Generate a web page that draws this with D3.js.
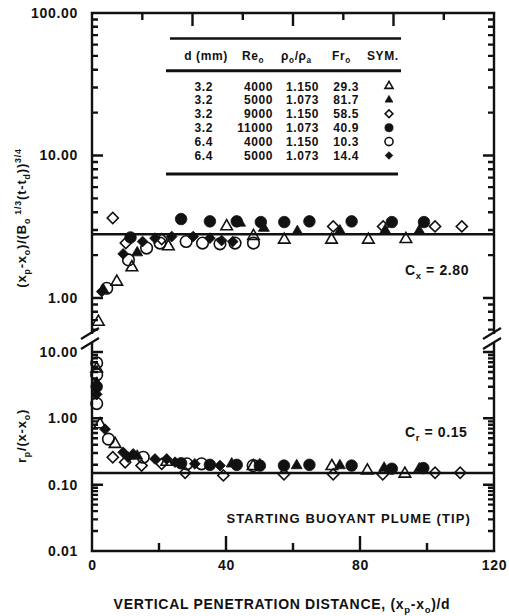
<!DOCTYPE html>
<html>
<head>
<meta charset="utf-8">
<script src="https://cdn.jsdelivr.net/npm/d3@7"></script>
<style>
  body { margin: 0; background: #fff; }
  svg text { font-family: "Liberation Sans", Arial, Helvetica, sans-serif; font-weight: bold; fill: #111; }
  .tick-label { font-size: 14px; letter-spacing: 0.7px; }
  .tab { font-size: 12px; letter-spacing: 0.6px; }
  .note { font-size: 14px; letter-spacing: 0.6px; }
  .title { font-size: 14px; letter-spacing: 0.7px; }
  .ytitle { font-size: 13px; letter-spacing: 0.8px; }
</style>
</head>
<body>
<svg id="chart" width="509" height="616"></svg>
<script>
// ---- experiment table ----
const diameters     = ["3.2", "3.2", "3.2", "3.2", "6.4", "6.4"];
const reynolds      = ["4000", "5000", "9000", "11000", "4000", "5000"];
const densityRatios = ["1.150", "1.073", "1.150", "1.073", "1.150", "1.073"];
const froude        = ["29.3", "81.7", "58.5", "40.9", "10.3", "14.4"];
const markers       = ["triOpen", "triFilled", "diaOpen", "circFilled", "circOpen", "diaFilled"];

// ---- upper panel: (xp-xo)/(Bo^1/3 (t-td))^3/4 vs (xp-xo)/d ----
const penTriOpen    = [[1.9,0.68],[7.4,1.30],[11.9,1.64],[22.8,2.30],[40.2,3.18],[48.2,2.72],[57.4,2.56],[71.5,2.56],[82.5,2.56],[93.7,2.59]];
const penTriFilled  = [[3.4,1.14],[13.5,2.08],[44.2,3.36],[51.3,3.09],[61.3,2.93],[74.0,2.96],[87.5,2.98],[97.7,2.96]];
const penDiaOpen    = [[6.2,3.64],[10.1,2.43],[20.8,2.59],[72.0,3.18],[86.9,3.18],[102.4,3.18],[110.4,3.18]];
const penCircFilled = [[11.5,2.66],[26.6,3.58],[35.2,3.45],[43.2,3.45],[50.4,3.41],[57.4,3.41],[64.9,3.45],[77.5,3.45],[89.5,3.41],[99.1,3.41]];
const penCircOpen   = [[4.4,1.17],[10.9,1.85],[16.3,2.24],[20.3,2.43],[28.1,2.49],[33.0,2.43],[38.2,2.40],[42.7,2.43],[48.2,2.43]];
const penDiaFilled  = [[2.9,1.11],[9.3,2.04],[15.1,2.49],[18.8,2.63],[23.8,2.70],[30.2,2.70],[35.2,2.63],[38.7,2.53],[42.0,2.49]];

// ---- lower panel: rp/(x-xo) vs (xp-xo)/d ----
const radTriOpen    = [[1.4,5.6],[2.4,0.81],[6.9,0.41],[22.3,0.22],[48.1,0.19],[71.6,0.19],[82.2,0.163],[93.4,0.146]];
const radTriFilled  = [[1.4,3.4],[13.5,0.27],[41.7,0.206],[50.1,0.20],[61.1,0.194],[74.0,0.194],[87.2,0.178],[97.7,0.174]];
const radDiaOpen    = [[6.2,0.259],[9.9,0.218],[14.8,0.194],[20.8,0.206],[27.8,0.151],[39.2,0.138],[57.3,0.143],[72.0,0.143],[86.8,0.143],[102.4,0.151],[109.9,0.151]];
const radCircFilled = [[1.4,3.0],[26.6,0.21],[35.2,0.199],[43.2,0.199],[50.1,0.194],[57.3,0.194],[64.9,0.199],[77.5,0.194],[89.5,0.174],[98.9,0.178]];
const radCircOpen   = [[1.4,6.85],[1.4,4.54],[1.4,1.67],[4.9,0.486],[15.3,0.259],[28.3,0.206],[32.7,0.206],[48.1,0.194]];
const radDiaFilled  = [[1.4,2.3],[3.9,0.685],[9.3,0.307],[10.8,0.259],[12.3,0.29],[18.8,0.244],[22.3,0.244],[24.8,0.218],[30.7,0.206],[38.2,0.194]];

const penSeries = [penTriOpen, penTriFilled, penDiaOpen, penCircFilled, penCircOpen, penDiaFilled];
const radSeries = [radTriOpen, radTriFilled, radDiaOpen, radCircFilled, radCircOpen, radDiaFilled];

// fitted constants
const Cx = 2.80, Cr = 0.15;

// axis ticks
const xLabelTicks = [0, 40, 80, 120];
const xMinorTicks = [20, 60, 100];
const xMajorTicks = [40, 80];
const topMinorTicks = [15, 45, 75, 105];
const topMajorTicks = [30, 60, 90];
const penLabelTicks = [1, 10, 100];
const radLabelTicks = [0.01, 0.1, 1, 10];
const penMinorTicks = [0.6, 0.7, 0.8, 0.9, 2, 3, 4, 5, 6, 7, 8, 9, 20, 30, 40, 50, 60, 70, 80, 90];
const radMinorTicks = [0.02, 0.03, 0.04, 0.05, 0.06, 0.07, 0.08, 0.09, 0.2, 0.3, 0.4, 0.5, 0.6, 0.7, 0.8, 0.9, 2, 3, 4, 5, 6, 7, 8, 9];

// ---- drawing ----
const svg = d3.select("#chart");
const X0 = 92, X1 = 494, YT = 13, YB = 551;
const topEnd = 334, botStart = 342;
const INK = "#111";

const x = d3.scaleLinear().domain([0, 120]).range([X0, X1]);
const yPen = d3.scaleLog().domain([1, 100]).range([298, YT]);
const yRad = d3.scaleLog().domain([0.01, 10]).range([YB, 352]);

// axis labels
function yLabels(scale, vals) {
  const g = svg.append("g").attr("transform", `translate(${X0},0)`)
    .call(d3.axisLeft(scale).tickValues(vals).tickSize(0).tickPadding(14).tickFormat(d3.format(".2f")));
  g.select(".domain").remove();
  g.selectAll("text").attr("class", "tick-label");
}
yLabels(yPen, penLabelTicks);
yLabels(yRad, radLabelTicks);
{
  const g = svg.append("g").attr("transform", `translate(0,${YB})`)
    .call(d3.axisBottom(x).tickValues(xLabelTicks).tickSize(0).tickPadding(9).tickFormat(d3.format("d")));
  g.select(".domain").remove();
  g.selectAll("text").attr("class", "tick-label");
}

// fitted constant lines
svg.append("line").attr("x1", X0).attr("x2", X1).attr("y1", yPen(Cx)).attr("y2", yPen(Cx))
  .attr("stroke", INK).attr("stroke-width", 2.4);
svg.append("line").attr("x1", X0).attr("x2", X1).attr("y1", yRad(Cr)).attr("y2", yRad(Cr))
  .attr("stroke", INK).attr("stroke-width", 2.4);

// markers
function markerPath(type, scale) {
  const s = scale || 1;
  if (type.startsWith("tri")) return d3.symbol().type(d3.symbolTriangle).size((type === "triOpen" ? 58 : 52) * s * s)();
  if (type.startsWith("circ")) return d3.symbol().type(d3.symbolCircle).size(105 * s * s)();
  return d3.symbol().type(d3.symbolSquare).size((type === "diaOpen" ? 62 : 58) * s * s)();
}
function drawMarker(sel, type, scale) {
  const open = type.endsWith("Open");
  sel.attr("d", markerPath(type, scale))
    .attr("fill", open ? "none" : INK)
    .attr("stroke", INK)
    .attr("stroke-width", open ? 1.6 : 0.8);
}
function rot(type) { return type.startsWith("dia") ? " rotate(45)" : ""; }

function plotSeries(series, yScale) {
  series.forEach((pts, i) => {
    const type = markers[i];
    svg.append("g").selectAll("path").data(pts).join("path")
      .attr("transform", d => `translate(${x(d[0])},${yScale(d[1])})${rot(type)}`)
      .each(function () { drawMarker(d3.select(this), type, 1); });
  });
}
plotSeries(penSeries, yPen);
plotSeries(radSeries, yRad);

// frame outline with its inward tick marks, one stroked path
const p = d3.path();
p.moveTo(X0 - 1.3, YT); p.lineTo(X1 + 1.3, YT);
p.moveTo(X0 - 1.3, YB); p.lineTo(X1 + 1.3, YB);
[X0, X1].forEach(xx => {
  p.moveTo(xx, YT); p.lineTo(xx, topEnd);
  p.moveTo(xx, botStart); p.lineTo(xx, YB);
});
function yTickSegs(scale, vals, len) {
  vals.forEach(v => {
    const yy = Math.round(scale(v) * 10) / 10;
    p.moveTo(X0, yy); p.lineTo(X0 + len, yy);
    p.moveTo(X1, yy); p.lineTo(X1 - len, yy);
  });
}
function xTickSegs(vals, y0, len) {
  vals.forEach(v => {
    const xx = Math.round(x(v) * 10) / 10;
    p.moveTo(xx, y0); p.lineTo(xx, y0 + len);
  });
}
yTickSegs(yPen, penMinorTicks, 6);
yTickSegs(yPen, penLabelTicks, 11);
yTickSegs(yRad, radMinorTicks, 6);
yTickSegs(yRad, radLabelTicks, 11);
xTickSegs(xMinorTicks, YB, -8);
xTickSegs(xMajorTicks, YB, -15);
xTickSegs(topMinorTicks, YT, 7);
xTickSegs(topMajorTicks, YT, 13);
svg.append("path").attr("d", p.toString()).attr("fill", "none").attr("stroke", INK).attr("stroke-width", 2.4);

// axis break slashes
const brk = d3.path();
[X0, X1].forEach(xx => {
  [topEnd - 1, botStart + 1].forEach(yy => { brk.moveTo(xx - 11, yy + 6); brk.lineTo(xx + 7, yy - 5); });
});
svg.append("path").attr("d", brk.toString()).attr("fill", "none").attr("stroke", INK).attr("stroke-width", 2.2);

// text with sub/superscripts
function richText(parent, parts) {
  let cur = 0;
  parts.forEach(q => {
    const target = q.sub ? 3.5 : q.sup ? -5 : 0;
    const ts = parent.append("tspan").text(q.t).attr("dy", target - cur);
    if (q.sub || q.sup) ts.style("font-size", "0.68em");
    cur = target;
  });
  return parent;
}

// table
const tab = svg.append("g");
const rule = (y, w, x1, x2) => tab.append("line").attr("x1", x1).attr("x2", x2).attr("y1", y).attr("y2", y)
  .attr("stroke", INK).attr("stroke-width", w);
rule(38.5, 2.4, 170, 401);
rule(70.7, 3, 166, 401);
rule(174, 3, 166, 398);

const hdrY = 59.5;
tab.append("text").attr("class", "tab").attr("x", 206).attr("y", hdrY).attr("text-anchor", "middle").text("d (mm)");
richText(tab.append("text").attr("class", "tab").attr("x", 242).attr("y", hdrY), [{t: "Re"}, {t: "o", sub: true}]);
richText(tab.append("text").attr("class", "tab").attr("x", 281).attr("y", hdrY),
  [{t: "ρ"}, {t: "o", sub: true}, {t: "/ρ"}, {t: "a", sub: true}]);
richText(tab.append("text").attr("class", "tab").attr("x", 332).attr("y", hdrY), [{t: "Fr"}, {t: "o", sub: true}]);
tab.append("text").attr("class", "tab").attr("x", 367).attr("y", hdrY).text("SYM.");

diameters.forEach((d, i) => {
  const yb = 90.5 + i * 13.9;
  tab.append("text").attr("class", "tab").attr("x", 213).attr("y", yb).attr("text-anchor", "end").text(d);
  tab.append("text").attr("class", "tab").attr("x", 273).attr("y", yb).attr("text-anchor", "end").text(reynolds[i]);
  tab.append("text").attr("class", "tab").attr("x", 319).attr("y", yb).attr("text-anchor", "end").text(densityRatios[i]);
  tab.append("text").attr("class", "tab").attr("x", 359).attr("y", yb).attr("text-anchor", "end").text(froude[i]);
  const type = markers[i];
  tab.append("path").attr("transform", `translate(389,${yb - 4.5})${rot(type)}`)
    .call(sel => drawMarker(sel, type, 0.7));
});

// annotations
richText(svg.append("text").attr("class", "note").attr("x", 405).attr("y", 275),
  [{t: "C"}, {t: "x", sub: true}, {t: " = 2.80"}]);
richText(svg.append("text").attr("class", "note").attr("x", 405).attr("y", 437),
  [{t: "C"}, {t: "r", sub: true}, {t: " = 0.15"}]);
svg.append("text").attr("class", "note").attr("x", 471).attr("y", 523).attr("text-anchor", "end")
  .style("font-size", "13px").style("letter-spacing", "1.1px").text("STARTING BUOYANT PLUME (TIP)");

// axis titles
richText(svg.append("text").attr("class", "title").attr("x", 282).attr("y", 609).attr("text-anchor", "middle"),
  [{t: "VERTICAL PENETRATION DISTANCE, (x"}, {t: "p", sub: true}, {t: "-x"}, {t: "o", sub: true}, {t: ")/d"}]);

richText(svg.append("text").attr("class", "ytitle").attr("text-anchor", "middle")
  .attr("transform", "translate(26,218) rotate(-90)"),
  [{t: "(x"}, {t: "p", sub: true}, {t: "-x"}, {t: "o", sub: true}, {t: ")/(B"}, {t: "o", sub: true},
   {t: " 1/3", sup: true}, {t: "(t-t"}, {t: "d", sub: true}, {t: "))"}, {t: "3/4", sup: true}]);

richText(svg.append("text").attr("class", "ytitle").attr("text-anchor", "middle")
  .attr("transform", "translate(26,436) rotate(-90)"),
  [{t: "r"}, {t: "p", sub: true}, {t: "/(x-x"}, {t: "o", sub: true}, {t: ")"}]);
</script>
</body>
</html>
